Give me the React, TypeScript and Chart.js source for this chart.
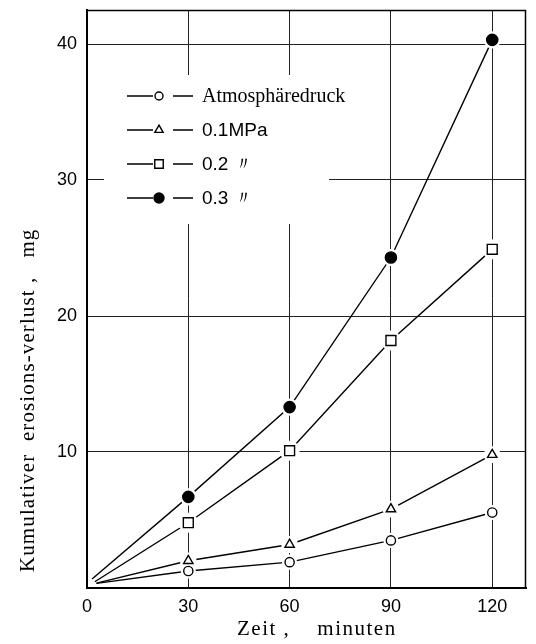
import React, { useEffect, useRef } from 'react';
import { Chart, registerables } from 'chart.js';

Chart.register(...registerables);

// ---- data ----
const times = [30, 60, 90, 120];
const startTimes = [2.8, 2.8, 2.3, 1.5];
const atmValues = [0.34, 1.25, 1.9, 3.5, 5.55];
const mpa01Values = [0.36, 2.0, 3.2, 5.8, 9.8];
const mpa02Values = [0.46, 4.8, 10.1, 18.2, 24.9];
const mpa03Values = [0.66, 6.7, 13.3, 24.3, 40.3];
const seriesLabels = ['Atmosphäredruck', '0.1MPa', '0.2 〃', '0.3 〃'];
const xTicks = [0, 30, 60, 90, 120];
const yTicks = [10, 20, 30, 40];
const xTitle = 'Zeit ,    minuten';
const yTitle = 'Kumulativer  erosions-verlust ,   mg';

// ---- styles ----
const markerStyles = ['circle', 'triangle', 'rect', 'circle'];
const markerFilled = [false, false, false, true];
const markerRadii = [4.6, 5.4, 7, 5.6];
const legendFonts = [
  '20px "Liberation Serif", serif',
  '19px "Liberation Sans", sans-serif',
  '19px "Liberation Sans", sans-serif',
  '19px "Liberation Sans", sans-serif',
];

function drawMarker(ctx: CanvasRenderingContext2D, style: string, x: number, y: number, r: number, filled: boolean) {
  ctx.beginPath();
  if (style === 'circle') {
    ctx.arc(x, y, r, 0, Math.PI * 2);
  } else if (style === 'triangle') {
    let rad = 0;
    ctx.moveTo(x + Math.sin(rad) * r, y - Math.cos(rad) * r);
    rad += (2 * Math.PI) / 3;
    ctx.lineTo(x + Math.sin(rad) * r, y - Math.cos(rad) * r);
    rad += (2 * Math.PI) / 3;
    ctx.lineTo(x + Math.sin(rad) * r, y - Math.cos(rad) * r);
    ctx.closePath();
  } else {
    const s = Math.SQRT1_2 * r;
    ctx.rect(x - s, y - s, 2 * s, 2 * s);
  }
  ctx.fillStyle = filled ? '#000' : '#fff';
  ctx.fill();
  ctx.lineWidth = 1.4;
  ctx.strokeStyle = '#000';
  ctx.stroke();
}

const sketchPlugin = {
  id: 'sketchDecor',
  beforeDatasetsDraw(chart: any) {
    const { ctx, chartArea } = chart;
    ctx.save();
    // white legend box covering grid
    ctx.fillStyle = '#fff';
    ctx.fillRect(chartArea.left + 17, chartArea.top + 65, 225, 149);
    for (let i = 0; i < seriesLabels.length; i++) {
      const y = chartArea.top + 86 + i * 34;
      const x0 = chartArea.left + 40;
      ctx.strokeStyle = '#000';
      ctx.lineWidth = 1.3;
      ctx.beginPath();
      ctx.moveTo(x0, y);
      ctx.lineTo(x0 + 26, y);
      ctx.moveTo(x0 + 46, y);
      ctx.lineTo(x0 + 66, y);
      ctx.stroke();
      drawMarker(ctx, markerStyles[i], x0 + 32, y, i === 2 ? 6 : markerRadii[i] - 0.6, markerFilled[i]);
      ctx.fillStyle = '#000';
      ctx.font = legendFonts[i];
      ctx.textAlign = 'left';
      ctx.textBaseline = 'middle';
      ctx.fillText(seriesLabels[i], x0 + 75, y + 1);
    }
    ctx.restore();
  },
  afterDraw(chart: any) {
    const { ctx, chartArea } = chart;
    ctx.save();
    // frame top & right
    ctx.strokeStyle = '#000';
    ctx.lineWidth = 1.5;
    ctx.beginPath();
    ctx.moveTo(chartArea.left, chartArea.top + 0.5);
    ctx.lineTo(chartArea.right - 0.5, chartArea.top + 0.5);
    ctx.lineTo(chartArea.right - 0.5, chartArea.bottom);
    ctx.stroke();
    // axis titles
    ctx.fillStyle = '#000';
    ctx.font = '21px "Liberation Serif", serif';
    ctx.textBaseline = 'middle';
    ctx.textAlign = 'left';
    (ctx as any).letterSpacing = '1.5px';
    ctx.fillText(xTitle, chartArea.left + 150, chartArea.bottom + 41);
    (ctx as any).letterSpacing = '1.1px';
    ctx.translate(28, chartArea.bottom - 16);
    ctx.rotate(-Math.PI / 2);
    ctx.fillText(yTitle, 0, 0);
    (ctx as any).letterSpacing = '0px';
    ctx.restore();
  },
};

export default function App() {
  const ref = useRef<HTMLCanvasElement>(null);
  useEffect(() => {
    const canvas = ref.current;
    if (!canvas) return;
    const allValues = [atmValues, mpa01Values, mpa02Values, mpa03Values];
    const datasets: any[] = [];
    allValues.forEach((vals, i) => {
      const pts = vals.map((v, j) => ({ x: j === 0 ? startTimes[i] : times[j - 1], y: v }));
      datasets.push({
        label: seriesLabels[i] + ' line',
        data: pts,
        borderColor: '#000',
        borderWidth: 1.4,
        pointRadius: 0,
        fill: false,
        tension: 0,
        order: 3,
      });
      datasets.push({
        label: seriesLabels[i] + ' halo',
        data: pts,
        showLine: false,
        pointStyle: 'circle',
        pointRadius: (c: any) => (c.dataIndex === 0 ? 0 : markerRadii[i] + 3),
        pointBackgroundColor: '#fff',
        pointBorderColor: '#fff',
        pointBorderWidth: 0,
        order: 2,
      });
      datasets.push({
        label: seriesLabels[i],
        data: pts,
        showLine: false,
        pointStyle: markerStyles[i],
        pointRadius: (c: any) => (c.dataIndex === 0 ? 0 : markerRadii[i]),
        pointBackgroundColor: markerFilled[i] ? '#000' : '#fff',
        pointBorderColor: '#000',
        pointBorderWidth: 1.4,
        order: 1,
      });
    });

    const chart = new Chart(canvas, {
      type: 'line',
      data: { datasets },
      plugins: [sketchPlugin],
      options: {
        responsive: false,
        animation: false,
        events: [],
        layout: { padding: { top: 9, right: 3, left: 0, bottom: 0 } },
        plugins: { legend: { display: false }, tooltip: { enabled: false } },
        scales: {
          x: {
            type: 'linear',
            min: 0,
            max: 130,
            afterBuildTicks: (s: any) => {
              s.ticks = xTicks.map((v) => ({ value: v }));
            },
            afterFit: (s: any) => {
              s.height = 56;
              s.paddingLeft = 0;
              s.paddingRight = 0;
            },
            ticks: {
              color: '#000',
              padding: 8,
              font: { family: '"Liberation Sans", sans-serif', size: 18 },
              maxRotation: 0,
            },
            grid: { color: '#222', lineWidth: 1, drawTicks: false },
            border: { display: true, color: '#000', width: 2 },
          },
          y: {
            type: 'linear',
            min: 0,
            max: 42.5,
            afterBuildTicks: (s: any) => {
              s.ticks = yTicks.map((v) => ({ value: v }));
            },
            afterFit: (s: any) => {
              s.width = 87;
              s.paddingTop = 0;
              s.paddingBottom = 0;
            },
            ticks: {
              color: '#000',
              padding: 10,
              font: { family: '"Liberation Sans", sans-serif', size: 18 },
            },
            grid: { color: '#222', lineWidth: 1, drawTicks: false },
            border: { display: true, color: '#000', width: 2 },
          },
        },
      },
    });
    return () => chart.destroy();
  }, []);

  return (
    <div style={{ position: 'fixed', left: 0, top: 0, width: 536, height: 644, background: '#fff' }}>
      <canvas ref={ref} width={536} height={644} style={{ width: 536, height: 644, display: 'block' }} />
    </div>
  );
}
